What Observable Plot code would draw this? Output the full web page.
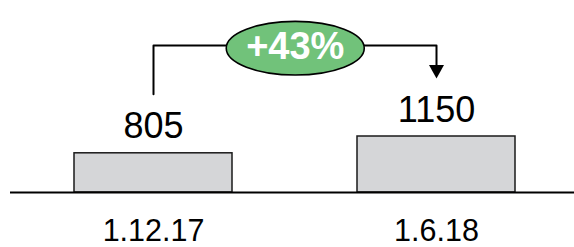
<!DOCTYPE html>
<html><head><meta charset="utf-8">
<script src="https://cdn.jsdelivr.net/npm/d3@7"></script>
<script src="https://cdn.jsdelivr.net/npm/@observablehq/plot@0.6"></script>
<style>html,body{margin:0;padding:0;background:#fff;} svg{display:block}</style>
</head><body><div id="chart"></div>
<script>
const dates = ["1.12.17", "1.6.18"];
const values = [805, 1150];
const changeLabel = "+" + Math.round((values[1] / values[0] - 1) * 100) + "%";

const data = dates.map((d, i) => ({date: d, value: values[i]}));
const xOpts = {type: "band", domain: dates, range: [10, 574], paddingInner: 0.44, paddingOuter: 0.2147, align: 0.52, axis: null};
const yOpts = {domain: [0, 1150], range: [192, 136], axis: null};
const xs = Plot.scale({x: {type: "band", domain: dates, range: [10, 574], paddingInner: 0.44, paddingOuter: 0.2147, align: 0.52}});
const ys = Plot.scale({y: {domain: [0, 1150], range: [192, 136]}});
const yAt = (v, px) => ys.invert(ys.apply(v) - px);
const bracketTop = yAt(values[1], 91);
const bracket = [
  {date: dates[0], y: yAt(values[0], 59)},
  {date: dates[0], y: bracketTop},
  {date: dates[1], y: bracketTop},
  {date: dates[1], y: yAt(values[1], 67)}
];
const halfStep = (xs.apply(dates[1]) - xs.apply(dates[0])) / 2;
const ellipse = {draw(ctx) {
  const rx = 69, ry = 26.8, k = 0.5523;
  ctx.moveTo(rx, 0);
  ctx.bezierCurveTo(rx, ry * k, rx * k, ry, 0, ry);
  ctx.bezierCurveTo(-rx * k, ry, -rx, ry * k, -rx, 0);
  ctx.bezierCurveTo(-rx, -ry * k, -rx * k, -ry, 0, -ry);
  ctx.bezierCurveTo(rx * k, -ry, rx, -ry * k, rx, 0);
  ctx.closePath();
}};
const arrowHead = {draw(ctx) {
  ctx.moveTo(-7.5, -4.5);
  ctx.lineTo(7.5, -4.5);
  ctx.lineTo(0, 9);
  ctx.closePath();
}};
const font = "Liberation Sans, Arial, sans-serif";

const chart = Plot.plot({
  width: 574, height: 247,
  marginTop: 0, marginBottom: 0, marginLeft: 10, marginRight: 0,
  x: xOpts, y: yOpts,
  style: {fontFamily: font, background: "#fff", overflow: "visible"},
  marks: [
    Plot.barY(data, {x: "date", y: "value", fill: "#d5d6d8", stroke: "#1a1a1a", strokeWidth: 1.5}),
    Plot.ruleY([0], {stroke: "#000", strokeWidth: 2.2}),
    Plot.text(data, {x: "date", y: "value", text: d => String(d.value), dy: -15, lineAnchor: "bottom", fontSize: 36, fill: "#000"}),
    Plot.text(data, {x: "date", y: () => 0, text: "date", dy: 48, lineAnchor: "bottom", fontSize: 30.5, fill: "#000"}),
    Plot.line(bracket, {x: "date", y: "y", stroke: "#000", strokeWidth: 2}),
    Plot.dot([bracket[3]], {x: "date", y: "y", symbol: arrowHead, fill: "#000", stroke: null}),
    Plot.dot([{date: dates[0], y: bracketTop}], {x: "date", y: "y", dx: halfStep, dy: 2.7, symbol: ellipse, fill: "#71c27a", stroke: "#000", strokeWidth: 1.6}),
    Plot.text([{date: dates[0], y: bracketTop}], {x: "date", y: "y", dx: halfStep, dy: 13.5, text: () => changeLabel, lineAnchor: "bottom", fontSize: 38, fontWeight: "bold", fill: "#fff"})
  ]
});
document.getElementById("chart").appendChild(chart);
</script>
</body></html>
